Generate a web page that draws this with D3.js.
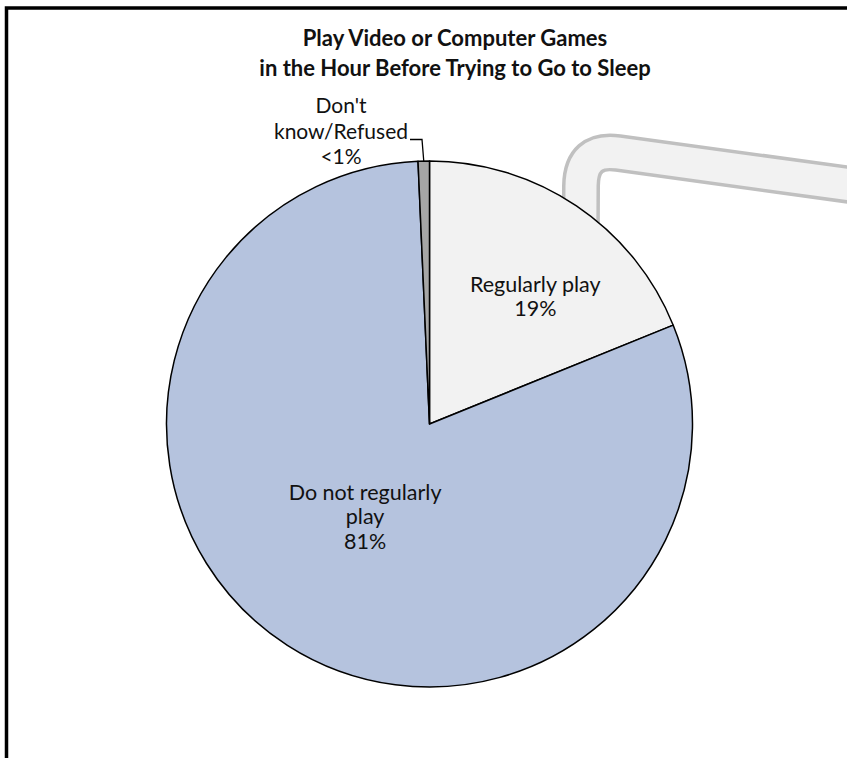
<!DOCTYPE html>
<html>
<head>
<meta charset="utf-8">
<script src="https://cdn.jsdelivr.net/npm/d3@7"></script>
<style>
  html, body { margin: 0; padding: 0; background: #fff; overflow: hidden; }
  svg { display: block; }
  text { font-family: Lato, "Open Sans", "Noto Sans", sans-serif; fill: #111; }
</style>
</head>
<body>
<svg id="chart" width="847" height="758"></svg>
<script>
// Survey shares (percent) in drawing order, clockwise from 12 o'clock
const categories = ["Regularly play", "Do not regularly play", "Don't know/Refused"];
const values = [19, 81, 0.7];
const valueLabels = ["19%", "81%", "<1%"];
const labelLines = [["Regularly play"], ["Do not regularly", "play"], ["Don't", "know/Refused"]];
const titleLines = ["Play Video or Computer Games", "in the Hour Before Trying to Go to Sleep"];

const colors = ["#f2f2f2", "#b5c3de", "#a6a6a6"];

const svg = d3.select("#chart");
const W = 847, H = 758;
const cx = 429.5, cy = 424, R = 263;

// outer frame (continues past the page edges)
svg.append("rect")
  .attr("x", 6.5).attr("y", 8)
  .attr("width", W + 40).attr("height", H + 40)
  .attr("fill", "none").attr("stroke", "#000").attr("stroke-width", 3.5);

// connector tube leading off to the right-hand panel
const tube = "M 580.5,300 L 581,186 Q 581.5,148 618,153 L 880,189";
svg.append("path").attr("d", tube)
  .attr("fill", "none").attr("stroke", "#c0c0c0").attr("stroke-width", 38);
svg.append("path").attr("d", tube)
  .attr("fill", "none").attr("stroke", "#f2f2f2").attr("stroke-width", 31);

// title
svg.append("g").selectAll("text").data(titleLines).join("text")
  .attr("x", 455).attr("y", (d, i) => 46 + i * 29.5)
  .attr("text-anchor", "middle")
  .attr("font-size", 22).attr("font-weight", 700)
  .style("fill", "#111")
  .text(d => d);

// pie
const pie = d3.pie().sort(null).value(d => d);
const arcs = pie(values);
const arc = d3.arc().innerRadius(0).outerRadius(R);

const g = svg.append("g").attr("transform", `translate(${cx},${cy})`);
g.selectAll("path.slice").data(arcs).join("path")
  .attr("class", "slice")
  .attr("d", arc)
  .attr("fill", (d, i) => colors[i])
  .attr("stroke", "#000").attr("stroke-width", 1.5)
  .attr("stroke-linejoin", "round");

// label anchors: polar offset from the slice's mid angle
const labelPlace = [
  { da: 0.10, rf: 0.63 },
  { da: 0.035, rf: 0.43 }
];
const lineH = 24.5;
const fs = 21.5;

[0, 1].forEach(i => {
  const a = arcs[i];
  const mid = (a.startAngle + a.endAngle) / 2 + labelPlace[i].da;
  const rr = R * labelPlace[i].rf;
  const x = Math.sin(mid) * rr;
  const y = -Math.cos(mid) * rr;
  const lines = labelLines[i].concat([valueLabels[i]]);
  const top = y - (lines.length - 1) * lineH / 2 + fs * 0.35;
  g.append("g").selectAll("text").data(lines).join("text")
    .attr("x", x).attr("y", (d, k) => top + k * lineH)
    .attr("text-anchor", "middle")
    .attr("font-size", fs)
    .text(d => d);
});

// small slice: label outside with a leader line
{
  const a = arcs[2];
  const mid = (a.startAngle + a.endAngle) / 2;
  const edge = [Math.sin(mid) * R, -Math.cos(mid) * R];
  const lx = -88.5;
  const lines = labelLines[2].concat([valueLabels[2]]);
  g.append("g").selectAll("text").data(lines).join("text")
    .attr("x", lx).attr("y", (d, k) => -311 + k * 25.5)
    .attr("text-anchor", "middle")
    .attr("font-size", 21)
    .text(d => d);
  g.append("polyline")
    .attr("points", [[-19.5, -284.5], [-7.5, -284.5], edge].map(p => p.join(",")).join(" "))
    .attr("fill", "none").attr("stroke", "#000").attr("stroke-width", 1.3);
}
</script>
</body>
</html>
